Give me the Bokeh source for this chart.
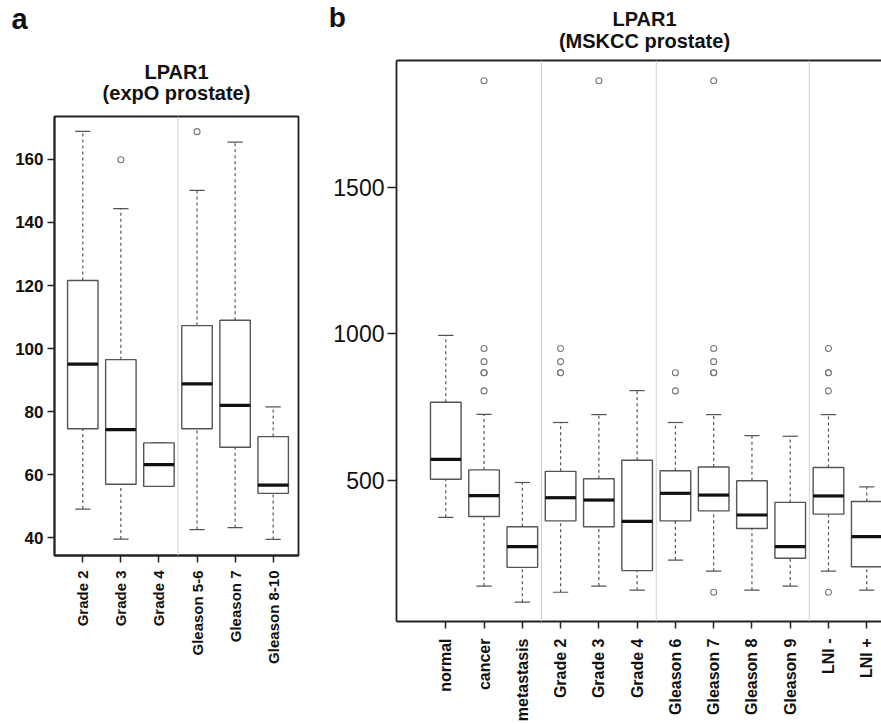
import math
from bokeh.plotting import figure
from bokeh.models import FixedTicker, LinearAxis, Span, ColumnDataSource, Range1d
from bokeh.layouts import row, column
from bokeh.core.properties import value
from bokeh.embed import file_html
from bokeh.resources import INLINE

FONT = "Liberation Sans"

# ---------------- data: panel a (expO prostate) ----------------
a_cats = ["Grade 2", "Grade 3", "Grade 4", "Gleason 5-6", "Gleason 7", "Gleason 8-10"]
a_whislo = [49.1, 39.6, 56.3, 42.6, 43.2, 39.5]
a_q1 = [74.6, 57.0, 56.3, 74.6, 68.7, 54.1]
a_med = [95.1, 74.3, 63.2, 88.8, 82.0, 56.7]
a_q3 = [121.6, 96.5, 70.1, 107.3, 109.0, 72.1]
a_whishi = [168.9, 144.4, 70.1, 150.2, 165.5, 81.5]
a_out_cat = ["Grade 3", "Gleason 5-6"]
a_out_val = [159.9, 168.8]
a_sep = [3.5]
a_yticks = [40, 60, 80, 100, 120, 140, 160]
a_title = ["LPAR1", "(expO prostate)"]

# ---------------- data: panel b (MSKCC prostate) ----------------
b_cats = ["normal", "cancer", "metastasis", "Grade 2", "Grade 3", "Grade 4",
          "Gleason 6", "Gleason 7", "Gleason 8", "Gleason 9", "LNI -", "LNI +"]
b_whislo = [373, 138, 83, 117, 138, 124, 227, 189, 124, 138, 189, 124]
b_q1 = [503, 376, 202, 361, 341, 191, 361, 395, 335, 233, 384, 204]
b_med = [571, 447, 273, 440, 432, 359, 455, 449, 381, 273, 446, 307]
b_q3 = [766, 535, 341, 530, 505, 568, 532, 545, 498, 424, 543, 427]
b_whishi = [995, 725, 492, 697, 724, 806, 697, 724, 652, 650, 724, 477]
b_out_cat = (["cancer"] * 6 + ["Grade 2"] * 4 + ["Grade 3"] + ["Gleason 6"] * 2
             + ["Gleason 7"] * 6 + ["LNI -"] * 5)
b_out_val = ([1865, 950, 905, 867, 867, 805]
             + [950, 905, 867, 867]
             + [1865]
             + [867, 805]
             + [1865, 950, 905, 867, 867, 117]
             + [950, 867, 867, 805, 117])
b_sep = [3.5, 6.5, 10.5]
b_yticks = [500, 1000, 1500]
b_title = ["LPAR1", "(MSKCC prostate)"]


def draw_boxes(p, cats, wlo, q1, med, q3, whi, out_cat, out_val, seps):
    xs = list(range(1, len(cats) + 1))
    bw = 0.8
    cap = 0.2
    src = ColumnDataSource(dict(
        x=xs, left=[x - bw / 2 for x in xs], right=[x + bw / 2 for x in xs],
        cl=[x - cap for x in xs], cr=[x + cap for x in xs],
        wlo=wlo, q1=q1, med=med, q3=q3, whi=whi))
    for s in seps:
        p.add_layout(Span(location=s, dimension="height", line_color="#cfcfcf", line_width=1))
    p.segment("x", "q3", "x", "whi", source=src, line_color="#555555", line_width=1.2, line_dash="3 3")
    p.segment("x", "wlo", "x", "q1", source=src, line_color="#555555", line_width=1.2, line_dash="3 3")
    p.segment("cl", "whi", "cr", "whi", source=src, line_color="#555555", line_width=1.2)
    p.segment("cl", "wlo", "cr", "wlo", source=src, line_color="#555555", line_width=1.2)
    p.quad(left="left", right="right", bottom="q1", top="q3", source=src,
           fill_color="white", line_color="#555555", line_width=1.4)
    p.segment("left", "med", "right", "med", source=src, line_color="#111111", line_width=3.2)
    ox = [cats.index(c) + 1 for c in out_cat]
    p.scatter(ox, out_val, marker="circle", size=6, fill_color=None,
              line_color="#777777", line_width=1.1)
    return xs


def style_axes(p, xs, cats, yticks, ytick_size, ytick_style, xlab_size, xstandoff,
               ytick_len, ystandoff):
    p.xaxis.ticker = FixedTicker(ticks=xs)
    p.xaxis.major_label_overrides = {x: c for x, c in zip(xs, cats)}
    p.xaxis.major_label_orientation = math.pi / 2
    p.xaxis.major_label_text_font = FONT
    p.xaxis.major_label_text_font_style = "bold"
    p.xaxis.major_label_text_font_size = xlab_size
    p.xaxis.major_label_text_color = "#111111"
    p.xaxis.major_label_standoff = xstandoff
    p.yaxis.ticker = FixedTicker(ticks=yticks)
    p.yaxis.major_label_text_font = FONT
    p.yaxis.major_label_text_font_size = ytick_size
    p.yaxis.major_label_text_font_style = ytick_style
    p.yaxis.major_label_text_color = "#111111"
    p.yaxis.major_label_standoff = ystandoff
    for ax in (p.xaxis, p.yaxis):
        ax.major_tick_in = 0
        ax.major_tick_out = 7
        ax.minor_tick_line_color = None
        ax.major_tick_line_color = "#222222"
        ax.major_tick_line_width = 1.5
        ax.axis_line_color = "#222222"
        ax.axis_line_width = 1.8
    p.yaxis.major_tick_out = ytick_len
    p.xgrid.visible = False
    p.ygrid.visible = False


def strip(width, height):
    s = figure(width=width, height=height, output_backend="svg", toolbar_location=None,
               x_range=Range1d(0, width), y_range=Range1d(height, 0),
               min_border=0, frame_align=False)
    s.axis.visible = False
    s.grid.visible = False
    s.outline_line_color = None
    return s


def put_text(s, x, y, txt, size, align):
    s.text(x=[x], y=[y], text=[txt], text_font=value(FONT), text_font_style="bold",
           text_font_size=value(size), text_align=align, text_baseline="alphabetic",
           text_color="#111111")


# ---------------- panel a ----------------
WA = 325
HA = 112
sa = strip(WA, HA)
put_text(sa, 11, 18, "a", "29px", "left")
put_text(sa, 176, 71, a_title[0], "20px", "center")
put_text(sa, 176, 92.5, a_title[1], "20px", "center")

pa = figure(width=WA, height=724 - HA, output_backend="svg", toolbar_location=None,
            x_range=Range1d(0.257, 6.665), y_range=Range1d(34.39, 173.6),
            min_border_left=54, min_border_right=WA - 298, min_border_top=116 - HA,
            min_border_bottom=169, frame_align=False)
pa.outline_line_color = "#222222"
pa.outline_line_width = 1.8
xa = draw_boxes(pa, a_cats, a_whislo, a_q1, a_med, a_q3, a_whishi, a_out_cat, a_out_val, a_sep)
style_axes(pa, xa, a_cats, a_yticks, "17px", "bold", "15px", 8, 7, 4)

# ---------------- panel b ----------------
WB = 881 - WA
HB = 58
sb = strip(WB, HB)
put_text(sb, 3.3, 16.5, "b", "28px", "left")
put_text(sb, 644 - WA, 18, b_title[0], "20px", "center")
put_text(sb, 644 - WA, 40, b_title[1], "20px", "center")

pb = figure(width=WB, height=724 - HB, output_backend="svg", toolbar_location=None,
            x_range=Range1d(-0.288, 12.385), y_range=Range1d(17, 1934),
            min_border_left=396 - WA, min_border_right=0, min_border_top=60 - HB,
            min_border_bottom=101, frame_align=False)
pb.outline_line_color = None
xb = draw_boxes(pb, b_cats, b_whislo, b_q1, b_med, b_q3, b_whishi, b_out_cat, b_out_val, b_sep)
style_axes(pb, xb, b_cats, b_yticks, "23px", "normal", "16px", 10, 9, 3)
top_axis = LinearAxis(ticker=FixedTicker(ticks=[]), major_tick_in=0, major_tick_out=0,
                      minor_tick_line_color=None, major_label_standoff=0,
                      axis_line_color="#222222", axis_line_width=1.8)
pb.add_layout(top_axis, "above")

layout = row(column(sa, pa), column(sb, pb))
open("out.html", "w").write(file_html(layout, INLINE))
